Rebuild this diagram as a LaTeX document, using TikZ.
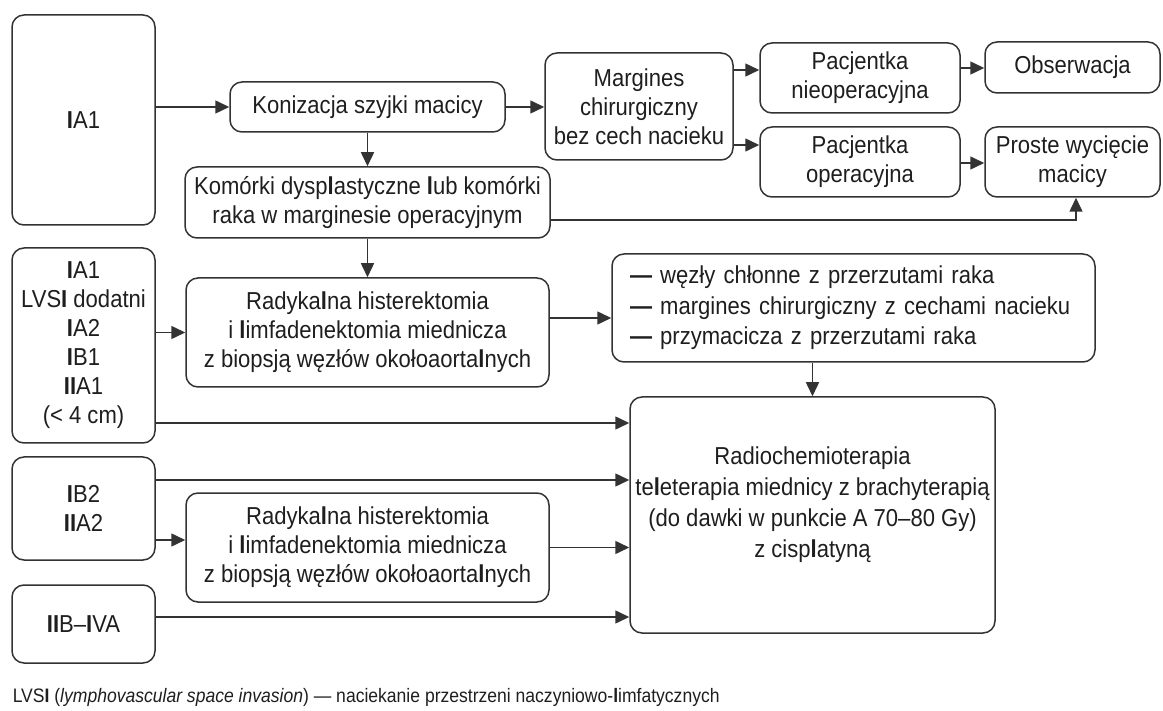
\documentclass[tikz,border=0pt]{standalone}
\usepackage{fontspec}
\setmainfont{Liberation Sans}[FakeStretch=0.9]
\usetikzlibrary{arrows.meta}
\definecolor{linegray}{HTML}{333333}
\definecolor{textgray}{HTML}{1E1E1E}
\newcommand{\hv}[1]{{\bfseries #1}}

\begin{document}
\begin{tikzpicture}[x=1pt, y=-1pt, color=linegray, line width=1.5pt,
  block/.style={rectangle, draw, rounded corners=12pt, align=center,
    text=textgray, inner sep=0pt},
  >={Triangle[length=14pt, width=13pt]}]
  \fontsize{24.5}{29}\selectfont
  \useasboundingbox (0,0) rectangle (1163,711);

  \node[block, minimum width=143pt, minimum height=210pt] (ia) at (83.5,120) {\hv{I}A1};
  \node[block, minimum width=275pt, minimum height=50pt] (koniz) at (367.5,107) {Konizacja szyjki macicy};
  \node[block, minimum width=188pt, minimum height=107pt] (marg) at (639,106.5) {Margines\\chirurgiczny\\bez cech nacieku};
  \node[block, minimum width=200pt, minimum height=70pt] (pacn) at (860,78) {Pacjentka\\nieoperacyjna};
  \node[block, minimum width=175pt, minimum height=51pt] (obs) at (1072.5,67.5) {Obserwacja};
  \node[block, minimum width=200pt, minimum height=70pt] (pacop) at (860,162) {Pacjentka\\operacyjna};
  \node[block, minimum width=175pt, minimum height=70pt] (proste) at (1072.5,162) {Proste wycięcie\\macicy};
  \node[block, minimum width=365pt, minimum height=71pt] (kom) at (367.5,202.5) {Komórki dysp\hv{l}astyczne \hv{l}ub komórki\\raka w marginesie operacyjnym};

  \node[block, minimum width=143pt, minimum height=195pt] (lvsi) at (83.5,345.5) {\hv{I}A1\\LVS\hv{I} dodatni\\\hv{I}A2\\\hv{I}B1\\\hv{II}A1\\(< 4 cm)};
  \node[block, minimum width=363pt, minimum height=109pt] (rad1) at (367.5,332.5) {Radyka\hv{l}na histerektomia\\i \hv{l}imfadenektomia miednicza\\z biopsją węzłów okołoaorta\hv{l}nych};
  \node[block, minimum height=108pt, text width=447pt, inner xsep=18pt, align=left, font=\fontsize{24.5}{30.5}\selectfont] (crit) at (853.5,308) {\hv{—} węzły chłonne z przerzutami raka\\\hv{—} margines chirurgiczny z cechami nacieku\\\hv{—} przymacicza z przerzutami raka};
  \node[block, minimum width=365pt, minimum height=236pt, text depth=25pt, font=\fontsize{24.5}{31}\selectfont] (radio) at (812.5,515) {Radiochemioterapia\\te\hv{l}eterapia miednicy z brachyterapią\\(do dawki w punkcie A 70–80 Gy)\\z cisp\hv{l}atyną};

  \node[block, minimum width=143pt, minimum height=103pt] (ib) at (83.5,508.5) {\hv{I}B2\\\hv{II}A2};
  \node[block, minimum width=363pt, minimum height=109pt] (rad2) at (367.5,547.5) {Radyka\hv{l}na histerektomia\\i \hv{l}imfadenektomia miednicza\\z biopsją węzłów okołoaorta\hv{l}nych};
  \node[block, minimum width=143pt, minimum height=78pt] (iib) at (83.5,624) {\hv{II}B–\hv{I}VA};

  \node[anchor=west, text=textgray, inner sep=0pt, font=\fontsize{19.5}{23}\selectfont] (note) at (12,697) {LVS\hv{I} (\textit{lymphovascular space invasion}) — naciekanie przestrzeni naczyniowo-\hv{l}imfatycznych};

  \coordinate (turn) at (1076,220);

  \draw[->] (ia.east |- koniz.west) -- (koniz.west);
  \draw[->] (koniz.east) -- (marg.west |- koniz.east);
  \draw[->] (marg.east |- 0,70) -- (pacn.west |- 0,70);
  \draw[->] (marg.east |- 0,145) -- (pacop.west |- 0,145);
  \draw[->] (pacn.east |- 0,68) -- (obs.west |- 0,68);
  \draw[->] (pacop.east |- 0,163) -- (proste.west |- 0,163);
  \draw[->] (koniz) -- (kom);
  \draw[->] (kom.east |- turn) -- (turn) -- (turn |- proste.south);
  \draw[->] (kom) -- (rad1);
  \draw[->] (lvsi.east |- rad1.west) -- (rad1.west);
  \draw[->] (lvsi.east |- 0,423) -- (radio.west |- 0,423);
  \draw[->] (rad1.east |- 0,318) -- (crit.west |- 0,318);
  \draw[->] (radio.north |- crit.south) -- (radio.north);
  \draw[->] (ib.east |- 0,480) -- (radio.west |- 0,480);
  \draw[->] (ib.east |- 0,540) -- (rad2.west |- 0,540);
  \draw[->] (rad2) -- (radio.west |- rad2);
  \draw[->] (iib.east |- 0,617) -- (radio.west |- 0,617);

\end{tikzpicture}
\end{document}
